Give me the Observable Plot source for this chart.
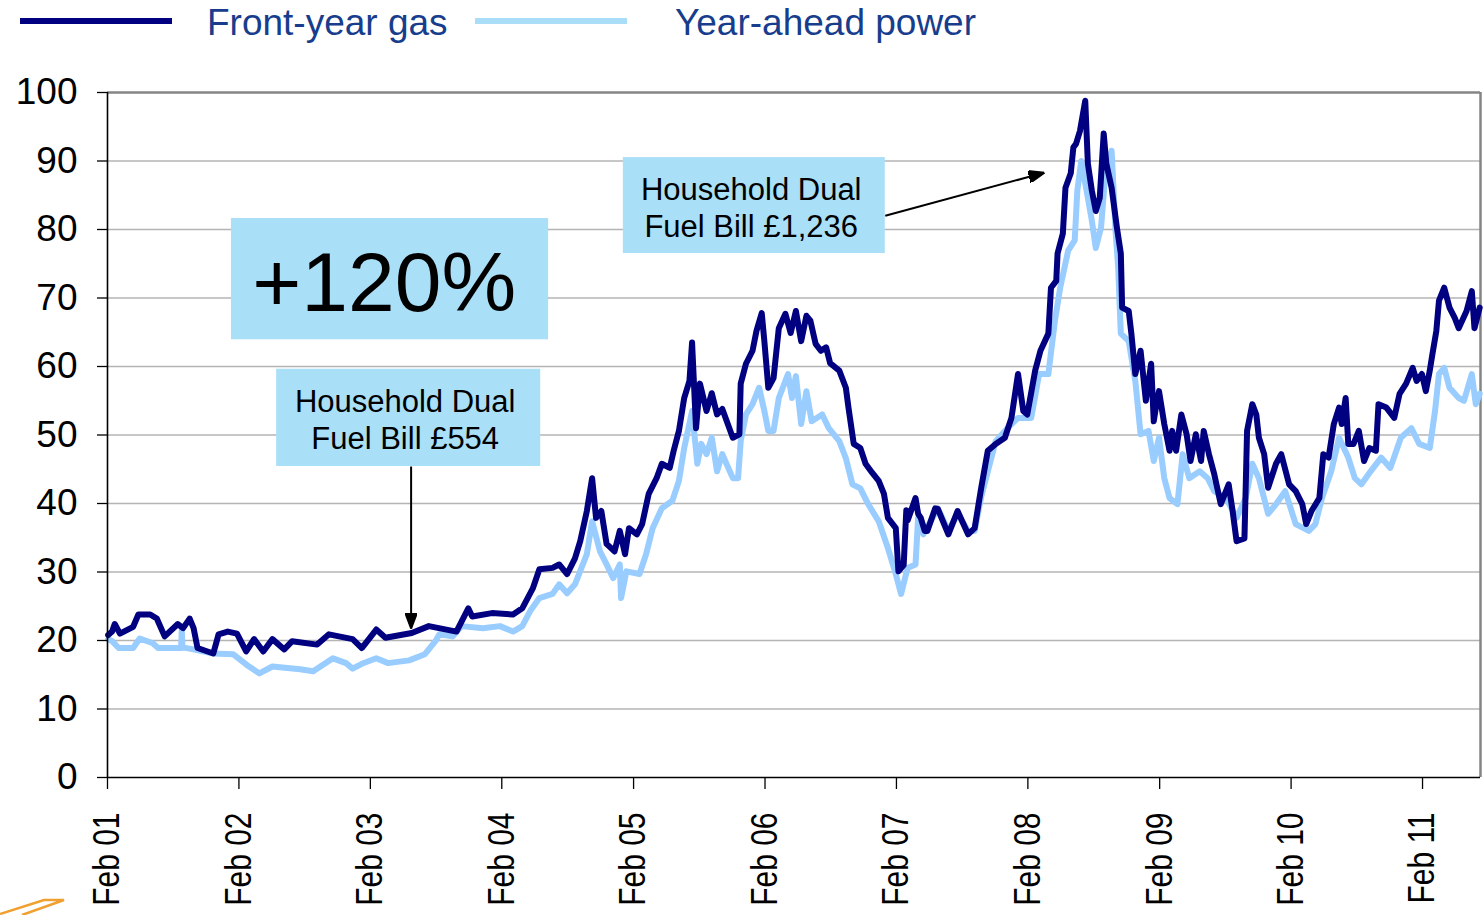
<!DOCTYPE html>
<html><head><meta charset="utf-8">
<script src="https://cdn.jsdelivr.net/npm/d3@7"></script>
<script src="https://cdn.jsdelivr.net/npm/@observablehq/plot@0.6"></script>
<style>
body{margin:0;background:#fff;font-family:"Liberation Sans",Arial,sans-serif;}
#wrap{position:relative;width:1483px;height:915px;overflow:hidden;background:#fff;}
#legend{position:relative;height:50px;}
.sw{position:absolute;height:6px;top:18px;}
.lt{position:absolute;top:3px;font-size:37px;line-height:40px;color:#173d8c;white-space:nowrap;}
#logo{position:absolute;left:0;top:890px;}
</style></head>
<body>
<div id="wrap">
  <div id="legend"></div>
  <div id="chart"></div>
  <svg id="logo" width="70" height="25"><polyline points="0,24 44,10 64,10 22,25" fill="none" stroke="#f0a030" stroke-width="2.5"/></svg>
</div>
<script>
// ---- data (decimal years) ----
const seriesNames = ["Front-year gas", "Year-ahead power"];
const seriesColors = ["#000080", "#99ccff"];
const legendColors = ["#000080", "#a9ddf8"];

const gasYears = [2001.09,2001.12,2001.14,2001.18,2001.28,2001.32,2001.41,2001.46,2001.52,2001.62,2001.66,2001.71,2001.74,2001.77,2001.89,2001.93,2002.00,2002.07,2002.14,2002.20,2002.27,2002.34,2002.43,2002.49,2002.68,2002.77,2002.95,2003.02,2003.13,2003.20,2003.40,2003.53,2003.74,2003.83,2003.86,2004.01,2004.17,2004.24,2004.32,2004.37,2004.47,2004.52,2004.58,2004.64,2004.68,2004.73,2004.77,2004.80,2004.84,2004.88,2004.94,2004.98,2005.02,2005.05,2005.11,2005.15,2005.20,2005.26,2005.30,2005.36,2005.39,2005.43,2005.47,2005.51,2005.53,2005.56,2005.59,2005.64,2005.68,2005.72,2005.76,2005.84,2005.89,2005.90,2005.94,2005.99,2006.02,2006.06,2006.08,2006.11,2006.15,2006.19,2006.24,2006.28,2006.32,2006.36,2006.40,2006.43,2006.47,2006.51,2006.55,2006.58,2006.65,2006.70,2006.72,2006.76,2006.81,2006.85,2006.90,2006.95,2006.99,2007.02,2007.08,2007.10,2007.14,2007.16,2007.17,2007.23,2007.25,2007.27,2007.30,2007.32,2007.38,2007.40,2007.48,2007.55,2007.63,2007.68,2007.73,2007.78,2007.84,2007.91,2007.96,2008.01,2008.05,2008.08,2008.14,2008.18,2008.24,2008.26,2008.30,2008.31,2008.35,2008.37,2008.41,2008.43,2008.45,2008.48,2008.52,2008.54,2008.57,2008.60,2008.63,2008.66,2008.68,2008.72,2008.76,2008.79,2008.80,2008.85,2008.87,2008.90,2008.94,2008.98,2009.02,2009.04,2009.06,2009.08,2009.12,2009.16,2009.18,2009.21,2009.25,2009.29,2009.32,2009.36,2009.40,2009.42,2009.46,2009.50,2009.55,2009.61,2009.64,2009.67,2009.73,2009.75,2009.79,2009.82,2009.84,2009.88,2009.91,2009.97,2010.01,2010.07,2010.12,2010.17,2010.20,2010.24,2010.30,2010.33,2010.37,2010.41,2010.45,2010.47,2010.50,2010.52,2010.56,2010.60,2010.64,2010.68,2010.73,2010.75,2010.81,2010.87,2010.91,2010.96,2011.01,2011.04,2011.08,2011.11,2011.14,2011.16,2011.19,2011.21,2011.25,2011.29,2011.33,2011.36,2011.42,2011.46,2011.48,2011.52];
const gasValues = [20.8,21.3,22.4,21.0,22.0,23.8,23.8,23.2,20.6,22.4,21.8,23.2,21.8,18.9,18.1,20.9,21.3,21.0,18.4,20.2,18.4,20.2,18.7,19.9,19.4,20.9,20.2,18.9,21.6,20.4,21.1,22.1,21.3,24.7,23.5,24.0,23.8,24.7,27.6,30.4,30.6,31.1,29.7,32.0,34.5,38.9,43.7,37.9,38.9,34.1,33.0,36.0,32.6,36.4,35.5,37.0,41.4,43.7,45.8,45.2,47.7,50.6,55.4,57.9,63.5,51.0,57.5,53.5,56.1,53.0,53.8,49.6,50.1,57.5,60.4,62.3,65.2,67.8,63.7,56.9,58.3,65.6,67.7,64.9,68.1,63.7,67.4,66.7,63.3,62.3,62.8,60.5,59.4,56.9,54.0,48.7,48.1,45.8,44.5,43.3,41.4,37.9,36.4,30.1,31.0,39.0,37.5,40.8,38.5,37.9,36.0,36.0,39.3,39.2,35.5,38.9,35.5,36.4,42.3,47.7,48.7,49.6,52.5,58.9,53.5,53.0,59.4,62.3,64.8,71.5,72.5,76.5,79.4,86.1,88.2,92.0,92.5,94.4,98.8,89.6,85.7,82.7,84.6,94.0,89.6,86.1,80.3,76.5,68.6,68.1,64.8,58.9,62.3,55.0,60.4,52.0,54.5,56.4,51.6,47.7,50.6,47.7,53.0,50.1,46.2,50.1,46.2,50.6,47.2,44.3,39.9,42.8,38.9,34.5,34.9,50.6,54.5,53.0,49.6,47.2,42.3,45.8,47.2,42.8,41.8,39.9,37.0,38.9,40.8,47.2,46.7,51.6,54.0,51.6,55.4,48.7,48.7,50.6,46.2,48.1,47.7,54.5,54.0,52.5,56.0,57.5,59.8,57.9,58.9,56.4,59.4,61.8,65.2,69.6,71.5,68.6,67.1,65.6,68.1,71.0,65.6,68.6];

const powerYears = [2001.09,2001.12,2001.17,2001.28,2001.33,2001.43,2001.47,2001.62,2001.645,2001.65,2001.655,2001.74,2001.89,2002.04,2002.14,2002.24,2002.34,2002.55,2002.65,2002.80,2002.90,2002.95,2003.02,2003.13,2003.22,2003.38,2003.50,2003.58,2003.61,2003.71,2003.78,2003.94,2004.07,2004.17,2004.24,2004.30,2004.37,2004.47,2004.52,2004.58,2004.64,2004.73,2004.77,2004.83,2004.88,2004.93,2004.98,2004.99,2005.03,2005.13,2005.18,2005.23,2005.30,2005.38,2005.43,2005.47,2005.53,2005.57,2005.60,2005.64,2005.68,2005.72,2005.76,2005.84,2005.88,2005.90,2005.94,2005.99,2006.04,2006.08,2006.11,2006.15,2006.19,2006.26,2006.29,2006.32,2006.36,2006.40,2006.44,2006.52,2006.57,2006.65,2006.70,2006.75,2006.81,2006.87,2006.95,2007.02,2007.08,2007.12,2007.17,2007.23,2007.25,2007.29,2007.40,2007.48,2007.55,2007.63,2007.68,2007.73,2007.84,2007.93,2008.01,2008.11,2008.17,2008.24,2008.29,2008.33,2008.39,2008.44,2008.46,2008.49,2008.53,2008.57,2008.60,2008.64,2008.67,2008.72,2008.75,2008.77,2008.79,2008.85,2008.90,2008.94,2009.00,2009.04,2009.08,2009.12,2009.16,2009.22,2009.26,2009.31,2009.39,2009.45,2009.50,2009.59,2009.67,2009.74,2009.79,2009.84,2009.91,2009.97,2010.04,2010.12,2010.22,2010.27,2010.32,2010.39,2010.45,2010.52,2010.57,2010.62,2010.69,2010.77,2010.84,2010.92,2011.00,2011.06,2011.14,2011.18,2011.21,2011.25,2011.29,2011.36,2011.40,2011.46,2011.49,2011.52];
const powerValues = [20.2,19.9,18.9,18.9,20.3,19.6,18.9,18.9,18.9,21.5,19.0,18.7,18.1,18.0,16.5,15.2,16.2,15.8,15.5,17.4,16.7,15.9,16.6,17.4,16.7,17.1,18.0,19.9,20.9,20.6,22.1,21.8,22.1,21.3,22.1,24.3,26.2,26.8,28.2,26.9,28.2,32.6,37.4,33.0,31.1,29.1,31.1,26.2,30.1,29.7,32.6,36.4,39.3,40.4,43.3,48.1,53.5,45.8,48.7,47.2,49.6,44.7,47.2,43.7,43.7,49.1,53.0,54.5,56.9,53.5,50.6,50.6,55.4,58.9,55.4,58.6,51.6,56.4,52.0,53.0,51.0,49.1,46.6,42.8,42.2,39.9,37.4,33.5,29.7,26.8,30.6,31.1,37.9,35.5,39.3,36.0,38.5,36.0,36.0,41.0,49.1,51.0,52.5,52.5,58.9,58.9,66.7,71.5,76.9,78.4,85.7,90.0,85.7,81.3,77.3,80.3,87.6,91.5,79.8,74.4,64.8,63.7,57.9,50.1,50.6,46.2,49.6,43.7,40.8,39.9,47.2,43.7,44.7,43.7,41.8,40.8,37.9,40.8,45.8,43.7,38.5,39.9,41.8,37.0,36.0,37.0,40.8,44.7,49.6,46.7,43.7,42.8,44.7,46.7,45.2,49.6,51.0,48.7,48.1,53.5,58.9,59.8,56.9,55.4,55.0,58.9,54.5,56.0];

const xTickYears = [2001,2002,2003,2004,2005,2006,2007,2008,2009,2010,2011];
const xTickLabels = ["Feb 01","Feb 02","Feb 03","Feb 04","Feb 05","Feb 06","Feb 07","Feb 08","Feb 09","Feb 10","Feb 11"];
const yTicks = [0,10,20,30,40,50,60,70,80,90,100];
const xDomainYears = [2001.085, 2011.526];

// annotation boxes & labels (data units: decimal year, value)
const boxes = [
  {x1: 2002.028, x2: 2004.44, y1: 63.9, y2: 81.6},
  {x1: 2002.372, x2: 2004.38, y1: 45.4, y2: 59.6},
  {x1: 2005.007, x2: 2007.0, y1: 76.5, y2: 90.5}
];
const bigLabel = [{x: 2003.19, y: 72.0, text: "+120%"}];
const billLabels = [
  {x: 2003.35, y: 52.4, text: "Household Dual\nFuel Bill £554"},
  {x: 2005.98, y: 83.3, text: "Household Dual\nFuel Bill £1,236"}
];
const arrows = [
  {x1: 2003.395, y1: 45.4, x2: 2003.395, y2: 21.75},
  {x1: 2007.0, y1: 82.0, x2: 2008.21, y2: 88.3}
];

// ---- helpers ----
function dec(t) {
  const y = Math.floor(t);
  const s = Date.UTC(y, 0, 1), e = Date.UTC(y + 1, 0, 1);
  return new Date(s + (t - y) * (e - s));
}
const gas = gasYears.map((t, i) => ({date: dec(t), value: gasValues[i]}));
const power = powerYears.map((t, i) => ({date: dec(t), value: powerValues[i]}));
const xTicks = xTickYears.map(y => new Date(Date.UTC(y, 1, 1)));
const boxData = boxes.map(b => ({x1: dec(b.x1), x2: dec(b.x2), y1: b.y1, y2: b.y2}));
const arrowData = arrows.map(a => ({x1: dec(a.x1), x2: dec(a.x2), y1: a.y1, y2: a.y2}));
const bigData = bigLabel.map(d => ({...d, x: dec(d.x)}));
const billData = billLabels.map(d => ({...d, x: dec(d.x)}));
const xDomain = xDomainYears.map(dec);

function filledArrow(color) {
  const ns = "http://www.w3.org/2000/svg";
  const m = document.createElementNS(ns, "marker");
  m.setAttribute("viewBox", "-16 -6 16 12");
  m.setAttribute("markerWidth", "16");
  m.setAttribute("markerHeight", "12");
  m.setAttribute("markerUnits", "userSpaceOnUse");
  m.setAttribute("refX", "0");
  m.setAttribute("refY", "0");
  m.setAttribute("orient", "auto");
  const p = document.createElementNS(ns, "path");
  p.setAttribute("d", "M-16,-6L0,0L-16,6Z");
  p.setAttribute("fill", color);
  m.appendChild(p);
  return m;
}

// ---- legend ----
const legend = document.getElementById("legend");
const legendPos = [{line: 20, text: 207}, {line: 475, text: 675}];
seriesNames.forEach((name, i) => {
  const sw = document.createElement("div");
  sw.className = "sw"; sw.style.left = legendPos[i].line + "px"; sw.style.width = "152px";
  sw.style.background = legendColors[i];
  legend.appendChild(sw);
  const t = document.createElement("div");
  t.className = "lt"; t.style.left = legendPos[i].text + "px"; t.textContent = name;
  legend.appendChild(t);
});

// ---- chart ----
const chart = Plot.plot({
  width: 1483,
  height: 865,
  marginLeft: 107,
  marginRight: 3,
  marginTop: 42,
  marginBottom: 138,
  style: {fontFamily: "'Liberation Sans', Arial, sans-serif", background: "#fff", overflow: "visible", color: "#000"},
  x: {type: "utc", domain: xDomain, label: null},
  y: {domain: [0, 100], label: null},
  marks: [
    Plot.gridY(yTicks.filter(v => v > 0 && v < 100), {stroke: "#b4b4b4", strokeOpacity: 1, strokeWidth: 1.3}),
    Plot.ruleY([100], {stroke: "#858585", strokeWidth: 2.5}),
    Plot.ruleX([xDomain[1]], {stroke: "#858585", strokeWidth: 2.5}),
    Plot.rect(boxData, {x1: "x1", x2: "x2", y1: "y1", y2: "y2", fill: "#aadff8"}),
    Plot.text(bigData, {x: "x", y: "y", text: "text", fontSize: 84, fill: "#000", textAnchor: "middle", lineAnchor: "middle"}),
    Plot.text(billData, {x: "x", y: "y", text: "text", fontSize: 31, lineHeight: 1.19, fill: "#000", textAnchor: "middle", lineAnchor: "middle"}),
    Plot.link(arrowData, {x1: "x1", y1: "y1", x2: "x2", y2: "y2", stroke: "#000", strokeWidth: 2, markerEnd: filledArrow}),
    Plot.line(power, {x: "date", y: "value", stroke: seriesColors[1], strokeWidth: 6, strokeLinejoin: "round", strokeLinecap: "round"}),
    Plot.line(gas, {x: "date", y: "value", stroke: seriesColors[0], strokeWidth: 6, strokeLinejoin: "round", strokeLinecap: "round"}),
    Plot.ruleX([xDomain[0]], {stroke: "#000", strokeWidth: 1.6}),
    Plot.ruleY([0], {stroke: "#000", strokeWidth: 1.6}),
    Plot.axisY({ticks: yTicks, tickSize: 10, tickPadding: 20, fontSize: 37, stroke: "#000", fill: "#000", strokeWidth: 1.3}),
    Plot.axisX({ticks: xTicks, tickFormat: d => xTickLabels[d.getUTCFullYear() - xTickYears[0]], tickRotate: -90, tickSize: 12, tickPadding: 23, fontSize: 37, stroke: "#000", fill: "#000", strokeWidth: 1.3})
  ]
});
document.getElementById("chart").appendChild(chart);

// condense the rotated date labels to the narrow width used in the reference
d3.select(chart).selectAll('g[aria-label="x-axis tick label"] text').each(function() {
  const len = this.getComputedTextLength();
  this.setAttribute("textLength", (len * 0.81).toFixed(1));
  this.setAttribute("lengthAdjust", "spacingAndGlyphs");
});
</script>
</body></html>
